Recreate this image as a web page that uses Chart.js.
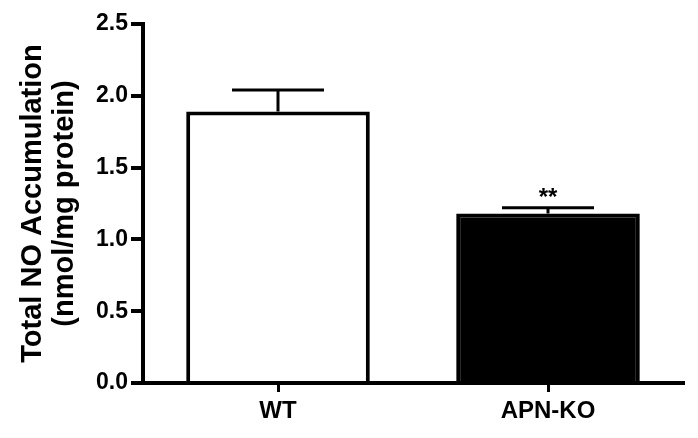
<!DOCTYPE html>
<html>
<head>
<meta charset="utf-8">
<script src="https://cdn.jsdelivr.net/npm/chart.js@4"></script>
<style>
  html, body { margin: 0; padding: 0; background: #fff; }
  #wrap { width: 698px; height: 438px; }
</style>
</head>
<body>
<div id="wrap"><canvas id="c" width="698" height="438"></canvas></div>
<script>
// datos
const grupos = ['WT', 'APN-KO'];
const medias = [1.89, 1.18];
const errores = [0.15, 0.04];
const marcas = ['', '**'];
const yTicks = [0, 0.5, 1.0, 1.5, 2.0, 2.5];

const FONT = "'Liberation Sans', Arial, sans-serif";

// barras de error + asteriscos
const errorBars = {
  id: 'errorBars',
  afterDatasetsDraw(chart) {
    const ctx = chart.ctx, y = chart.scales.y;
    const meta = chart.getDatasetMeta(0);
    ctx.save();
    ctx.strokeStyle = '#000';
    ctx.lineWidth = 3;
    meta.data.forEach((bar, i) => {
      const top = y.getPixelForValue(medias[i] + errores[i]);
      const base = y.getPixelForValue(medias[i]);
      ctx.beginPath();
      ctx.moveTo(bar.x, base);
      ctx.lineTo(bar.x, top);
      ctx.moveTo(bar.x - 46, top);
      ctx.lineTo(bar.x + 46, top);
      ctx.stroke();
      if (marcas[i]) {
        ctx.fillStyle = '#000';
        ctx.font = 'bold 24px ' + FONT;
        ctx.textAlign = 'center';
        ctx.textBaseline = 'alphabetic';
        ctx.fillText(marcas[i], bar.x, top - 3);
      }
    });
    ctx.restore();
  }
};

new Chart(document.getElementById('c'), {
  type: 'bar',
  data: {
    labels: grupos,
    datasets: [{
      data: medias,
      backgroundColor: ['#fff', '#000'],
      borderColor: '#000',
      borderWidth: 4,
      borderSkipped: 'bottom',
      barPercentage: 0.68,
      categoryPercentage: 1
    }]
  },
  options: {
    responsive: false,
    animation: false,
    layout: { padding: { top: 24, right: 15, bottom: 0, left: 0 } },
    plugins: { legend: { display: false }, tooltip: { enabled: false } },
    scales: {
      x: {
        offset: true,
        border: { color: '#000', width: 4 },
        grid: { offset: false, drawOnChartArea: false, color: '#000', lineWidth: 3, tickLength: 9 },
        ticks: { color: '#000', font: { family: FONT, size: 24, weight: 'bold' }, padding: 5 },
        afterFit: s => { s.height = 55; }
      },
      y: {
        min: 0, max: 2.5,
        afterBuildTicks: s => { s.ticks = yTicks.map(v => ({ value: v })); },
        border: { color: '#000', width: 4 },
        grid: { drawOnChartArea: false, color: '#000', lineWidth: 4, tickLength: 12 },
        ticks: {
          color: '#000', padding: 3,
          font: { family: FONT, size: 23, weight: 'bold' },
          callback: v => v.toFixed(1)
        },
        title: {
          display: true,
          text: ['Total NO Accumulation', '(nmol/mg protein)'],
          color: '#000',
          font: { family: FONT, size: 29, weight: 'bold', lineHeight: 1.1 },
          padding: { top: 17, bottom: 0 }
        },
        afterFit: s => { s.width = 143; }
      }
    }
  },
  plugins: [errorBars]
});
</script>
</body>
</html>
